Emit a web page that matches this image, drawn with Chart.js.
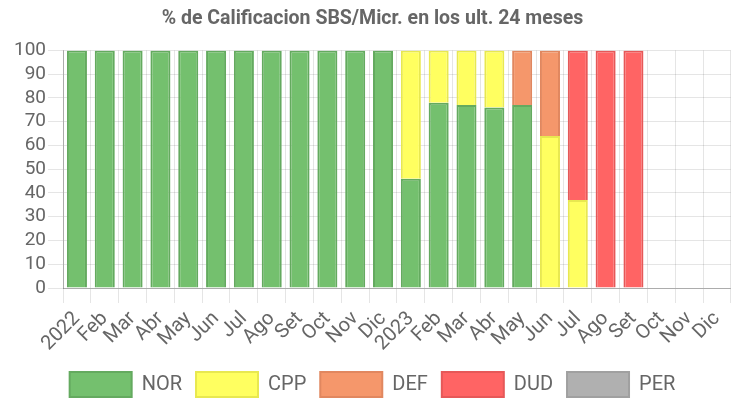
<!DOCTYPE html>
<html>
<head>
<meta charset="utf-8">
<script src="https://cdn.jsdelivr.net/npm/chart.js@4"></script>
<style>
html,body{margin:0;padding:0;background:#fff;}
</style>
</head>
<body>
<canvas id="c" width="738" height="402" style="width:738px;height:402px;display:block"></canvas>
<script>
const categories = ["2022","Feb","Mar","Abr","May","Jun","Jul","Ago","Set","Oct","Nov","Dic",
                    "2023","Feb","Mar","Abr","May","Jun","Jul","Ago","Set","Oct","Nov","Dic"];
const NOR = [100,100,100,100,100,100,100,100,100,100,100,100, 46,78,77,76,77, 0, 0, 0, 0, 0,0,0];
const CPP = [0,0,0,0,0,0,0,0,0,0,0,0, 54,22,23,24, 0,64,37, 0, 0, 0,0,0];
const DEF = [0,0,0,0,0,0,0,0,0,0,0,0, 0,0,0,0,23,36, 0, 0, 0, 0,0,0];
const DUD = [0,0,0,0,0,0,0,0,0,0,0,0, 0,0,0,0, 0, 0,63,100,100, 0,0,0];
const PER = [0,0,0,0,0,0,0,0,0,0,0,0, 0,0,0,0, 0, 0, 0, 0, 0, 0,0,0];
const yTicks = [0,10,20,30,40,50,60,70,80,90,100];

const FONT = "Roboto, 'Liberation Sans', sans-serif";
Chart.defaults.font.family = FONT;
Chart.defaults.color = '#666';

const mk = (label, data, bg, bd) => ({label, data, backgroundColor: bg, borderColor: bd, borderWidth: 2});

new Chart(document.getElementById('c'), {
  type: 'bar',
  data: {
    labels: categories,
    datasets: [
      mk('NOR', NOR, 'rgba(116,192,110,1)', 'rgba(100,170,95,1)'),
      mk('CPP', CPP, 'rgba(255,255,96,1)', 'rgba(232,232,80,1)'),
      mk('DEF', DEF, 'rgba(245,151,107,1)', 'rgba(225,135,95,1)'),
      mk('DUD', DUD, 'rgba(255,100,100,1)', 'rgba(230,88,88,1)'),
      mk('PER', PER, 'rgba(176,176,176,1)', 'rgba(160,160,160,1)')
    ]
  },
  options: {
    responsive: false,
    animation: false,
    layout: {padding: {left: 12, right: 5, top: 0, bottom: -5}},
    plugins: {
      title: {display: true, text: '% de Calificacion SBS/Micr. en los ult. 24 meses',
              font: {size: 19.5, weight: 'bold', family: FONT}, color: '#666', padding: {top: 7, bottom: 20}},
      legend: {position: 'bottom', labels: {boxWidth: 62, boxHeight: 25, font: {size: 20, family: FONT}, color: '#666', padding: 14}},
      tooltip: {enabled: false}
    },
    scales: {
      x: {stacked: true,
          afterFit: (ax) => { ax.height = 70; },
          ticks: {font: {size: 20, family: FONT}, color: '#666', maxRotation: 45, minRotation: 45, autoSkip: false, padding: 4},
          grid: {color: 'rgba(0,0,0,0.1)', tickLength: 15},
          border: {color: 'rgba(0,0,0,0.25)'}},
      y: {stacked: true, min: 0, max: 100,
          afterBuildTicks: (ax) => { ax.ticks = yTicks.map(v => ({value: v})); },
          ticks: {font: {size: 19, family: FONT}, color: '#666', padding: 2, autoSkip: false},
          grid: {color: 'rgba(0,0,0,0.1)', tickLength: 15},
          border: {color: 'rgba(0,0,0,0.25)'}}
    }
  }
});
</script>
</body>
</html>
